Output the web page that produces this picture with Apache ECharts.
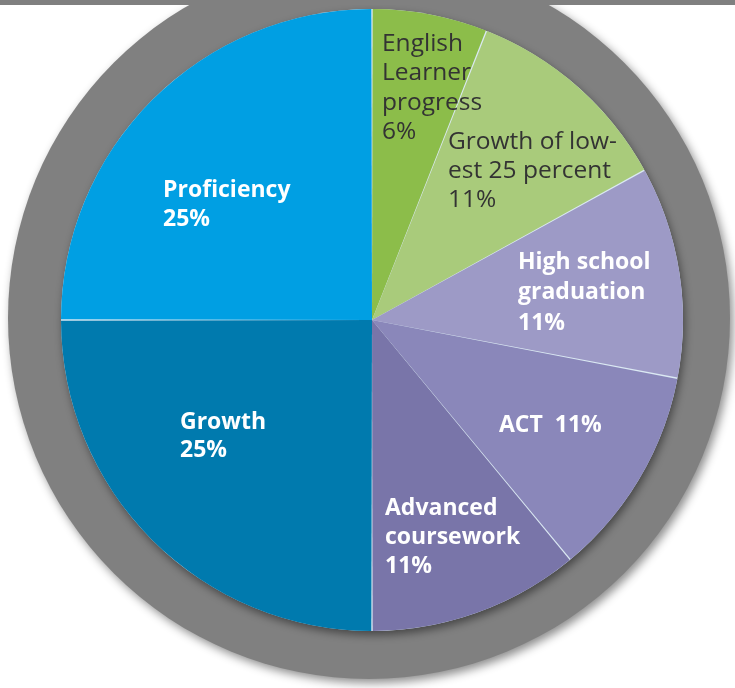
<!DOCTYPE html>
<html>
<head>
<meta charset="utf-8">
<script src="https://cdn.jsdelivr.net/npm/echarts@6/dist/echarts.min.js"></script>
<style>
  html, body { margin: 0; padding: 0; background: #ffffff; }
  #chart { width: 735px; height: 688px; }
</style>
</head>
<body>
<div id="chart"></div>
<script>
// ---- data ----
const categories = ['English Learner progress', 'Growth of lowest 25 percent', 'High school graduation', 'ACT', 'Advanced coursework', 'Growth', 'Proficiency'];
const values = [6, 11, 11, 11, 11, 25, 25];
const labelNames = ['English\nLearner\nprogress', 'Growth of low-\nest 25 percent', 'High school\ngraduation', 'ACT', 'Advanced\ncoursework', 'Growth', 'Proficiency'];
const labelSeparators = ['\n', '\n', '\n', '  ', '\n', '\n', '\n'];

// ---- styles / layout ----
const sliceColors = ['#8cbd4a', '#a9cb7b', '#9d9ac6', '#8a87ba', '#7975a9', '#007aae', '#009fe3'];
const labelColors = ['#333333', '#333333', '#ffffff', '#ffffff', '#ffffff', '#ffffff', '#ffffff'];
const labelWeights = ['normal', 'normal', 'bold', 'bold', 'bold', 'bold', 'bold'];
const labelSizes = [24.5, 24.5, 23, 23, 23, 23, 23];
// left x and centre y of first text line
const labelPos = [[382, 44], [448, 142], [518, 262], [499, 425], [385, 508], [180, 422], [163, 190]];
const labelLineHeights = [29.5, 29, 30.5, 29, 29, 28.5, 29];

const chart = echarts.init(document.getElementById('chart'), null, { renderer: 'canvas' });

const pieData = categories.map((c, i) => ({
  name: c,
  value: values[i],
  itemStyle: { color: sliceColors[i] },
  label: {
    color: labelColors[i],
    fontWeight: labelWeights[i],
    fontSize: labelSizes[i],
    lineHeight: labelLineHeights[i]
  }
}));

const option = {
  backgroundColor: '#ffffff',
  animation: false,
  graphic: [{
    type: 'rect', z: 100,
    shape: { x: 0, y: 0, width: 735, height: 5 },
    style: { fill: '#808080' }
  }],
  series: [
    {
      type: 'pie', silent: true, z: 1,
      center: [369, 318], radius: [0, 361],
      label: { show: false }, labelLine: { show: false },
      itemStyle: { color: '#808080', shadowBlur: 10, shadowOffsetX: 3, shadowOffsetY: 4, shadowColor: 'rgba(0,0,0,0.45)' },
      data: [{ value: 1, name: 'ring' }]
    },
    {
      type: 'pie', silent: true, z: 2,
      center: [372, 320], radius: [0, 311],
      label: { show: false }, labelLine: { show: false },
      itemStyle: { color: '#dbe9f3', shadowBlur: 9, shadowOffsetX: 2, shadowOffsetY: 4, shadowColor: 'rgba(0,0,0,0.45)' },
      data: [{ value: 1, name: 'disk' }]
    },
    {
      type: 'pie', z: 3,
      center: [372, 320], radius: [0, 311],
      startAngle: 90, clockwise: true,
      padAngle: 0.25,
      avoidLabelOverlap: false,
      label: {
        show: true,
        position: 'inside',
        fontFamily: '"Open Sans", "Noto Sans", sans-serif',
        fontSize: 23,
        align: 'left',
        formatter: p => labelNames[p.dataIndex] + labelSeparators[p.dataIndex] + p.value + '%'
      },
      labelLine: { show: false },
      labelLayout: function (params) {
        const i = params.dataIndex;
        return {
          x: labelPos[i][0],
          y: labelPos[i][1] - labelLineHeights[i] / 2,
          align: 'left',
          verticalAlign: 'top'
        };
      },
      data: pieData
    }
  ]
};
chart.setOption(option);
</script>
</body>
</html>
